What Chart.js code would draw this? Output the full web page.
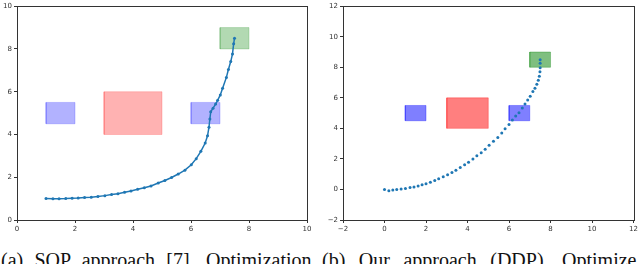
<!DOCTYPE html>
<html>
<head>
<meta charset="utf-8">
<script src="https://cdn.jsdelivr.net/npm/chart.js@4"></script>
<style>
	html, body { margin: 0; padding: 0; background: #fff; overflow: hidden; }
	body { width: 640px; height: 264px; position: relative; }
	.panel { position: absolute; top: 0; width: 320px; height: 232px; }
	.caption {
		position: absolute; top: 250px; height: 20px; line-height: 20px;
		font-family: "Liberation Serif", "Times New Roman", serif;
		font-size: 20px; color: #111; white-space: nowrap; word-spacing: 6px;
	}
</style>
</head>
<body>
<div class="panel" style="left:0"><canvas id="sqp"></canvas></div>
<div class="panel" style="left:320px"><canvas id="ddp"></canvas></div>
<div class="caption" style="left:1px; word-spacing:6.3px">(a) SQP approach [7]. Optimization</div>
<div class="caption" style="left:322px; word-spacing:8.5px">(b) Our approach (DDP). Optimize</div>
<script>

	// SQP trajectory (left panel)
	const sqpX = [ 1.0, 1.24, 1.45, 1.68, 1.9, 2.11, 2.33, 2.56, 2.79, 3.03, 3.26, 3.48, 3.71, 3.93, 4.16, 4.39, 4.62, 4.87, 5.1, 5.33, 5.56, 5.79, 6.01, 6.18, 6.34, 6.49, 6.57, 6.62, 6.65, 6.68, 6.76, 6.85, 6.92, 7.01, 7.09, 7.22, 7.29, 7.37, 7.43, 7.47, 7.5 ];
	const sqpY = [ 1.0, 0.99, 0.99, 1.0, 1.02, 1.03, 1.05, 1.06, 1.1, 1.14, 1.19, 1.23, 1.3, 1.36, 1.44, 1.51, 1.59, 1.73, 1.85, 1.99, 2.15, 2.33, 2.58, 2.87, 3.21, 3.6, 3.94, 4.34, 4.72, 5.06, 5.23, 5.42, 5.6, 5.85, 6.16, 6.67, 7.04, 7.41, 7.76, 8.24, 8.5 ];

	// DDP trajectory (right panel)
	const ddpX = [ 0.0, 0.21, 0.4, 0.59, 0.8, 1.01, 1.23, 1.42, 1.62, 1.81, 2.0, 2.21, 2.42, 2.61, 2.83, 3.04, 3.25, 3.44, 3.65, 3.86, 4.05, 4.26, 4.45, 4.66, 4.85, 5.04, 5.25, 5.46, 5.65, 5.81, 6.0, 6.16, 6.32, 6.48, 6.64, 6.77, 6.9, 7.02, 7.15, 7.25, 7.34, 7.41, 7.46, 7.49, 7.5, 7.5, 7.5 ];
	const ddpY = [ 0.0, -0.08, -0.03, -0.01, 0.03, 0.07, 0.12, 0.16, 0.23, 0.31, 0.37, 0.48, 0.59, 0.7, 0.83, 0.96, 1.11, 1.26, 1.43, 1.61, 1.78, 2.0, 2.21, 2.41, 2.63, 2.89, 3.15, 3.41, 3.69, 3.97, 4.25, 4.55, 4.81, 5.02, 5.33, 5.59, 5.85, 6.11, 6.41, 6.63, 6.89, 7.15, 7.41, 7.71, 7.97, 8.27, 8.5 ];

	// Obstacles and goal: [ x0, x1, y0, y1 ]
	const obstacleBoxes = [ [ 1, 2, 4.5, 5.5 ], [ 3, 5, 4, 6 ], [ 6, 7, 4.5, 5.5 ] ];
	const obstacleKinds = [ "blue", "red", "blue" ];
	const goalBox = [ 7, 8, 8, 9 ];

	// Axis ticks
	const sqpTicks = [ 0, 10 ];
	const ddpTicks = [ -2, 12 ];

	const baseColors = {
		blue: "0,0,255",
		red: "255,0,0",
		green: "0,128,0"
	};

	/*
	 * Closed rectangle outline for a box.
	 */
	const boxPoints = box => [
		{ x: box[0], y: box[2] },
		{ x: box[1], y: box[2] },
		{ x: box[1], y: box[3] },
		{ x: box[0], y: box[3] },
		{ x: box[0], y: box[2] }
	];

	const boxDataset = ( box, kind, alpha ) => ({
		data: boxPoints( box ),
		showLine: true,
		fill: "shape",
		tension: 0,
		pointRadius: 0,
		borderWidth: 0.8,
		borderColor: "rgba(" + baseColors[kind] + "," + alpha * 0.8 + ")",
		backgroundColor: "rgba(" + baseColors[kind] + "," + alpha + ")",
		order: 2
	});

	// Draw the four spines round the plot area.
	const framePlugin = {
		id: "frame",
		afterDatasetsDraw: function( chart )
		{
			const a = chart.chartArea;
			const ctx = chart.ctx;
			ctx.save();
			ctx.strokeStyle = "#333";
			ctx.lineWidth = 1;
			ctx.strokeRect( Math.round( a.left ) + 0.5, Math.round( a.top ) + 0.5, Math.round( a.right - a.left ), Math.round( a.bottom - a.top ) );
			ctx.restore();
		}
	};

	const tickFont = { family: "DejaVu Sans", size: 7 };
	const minus = v => String( v ).replace( "-", "\u2212" );

	const axis = ( range, fit ) => ({
		type: "linear",
		min: range[0],
		max: range[1],
		afterFit: fit,
		border: { display: false },
		grid: { drawOnChartArea: false, drawTicks: true, tickLength: 3, color: "#333" },
		ticks: { stepSize: 2, font: tickFont, color: "#333", padding: 2, callback: minus, maxRotation: 0 }
	});

	const makeChart = ( id, xs, ys, ticks, alpha, line, padRight ) =>
	{
		const datasets = [];
		datasets.push({
			data: xs.map( ( x, i ) => ({ x: x, y: ys[i] }) ),
			showLine: line,
			borderColor: "#1f77b4",
			backgroundColor: "#1f77b4",
			borderWidth: 1.5,
			pointRadius: 1.5,
			pointBorderWidth: 0,
			tension: 0,
			order: 1
		});
		obstacleBoxes.forEach( ( box, i ) => datasets.push( boxDataset( box, obstacleKinds[i], alpha ) ) );
		datasets.push( boxDataset( goalBox, "green", alpha ) );

		return new Chart( document.getElementById( id ), {
			type: "scatter",
			data: { datasets: datasets },
			options: {
				responsive: true,
				maintainAspectRatio: false,
				animation: false,
				events: [],
				layout: { padding: { top: 4, right: padRight, left: 0, bottom: 0 } },
				plugins: { legend: { display: false }, tooltip: { enabled: false } },
				scales: {
					x: axis( ticks, s => { s.height = 12; } ),
					y: axis( ticks, s => { s.width = id === "sqp" ? 17 : 23; } )
				}
			},
			plugins: [ framePlugin ]
		});
	};

	makeChart( "sqp", sqpX, sqpY, sqpTicks, 0.3, true, 13 );
	makeChart( "ddp", ddpX, ddpY, ddpTicks, 0.5, false, 4 );
</script>
</body>
</html>
